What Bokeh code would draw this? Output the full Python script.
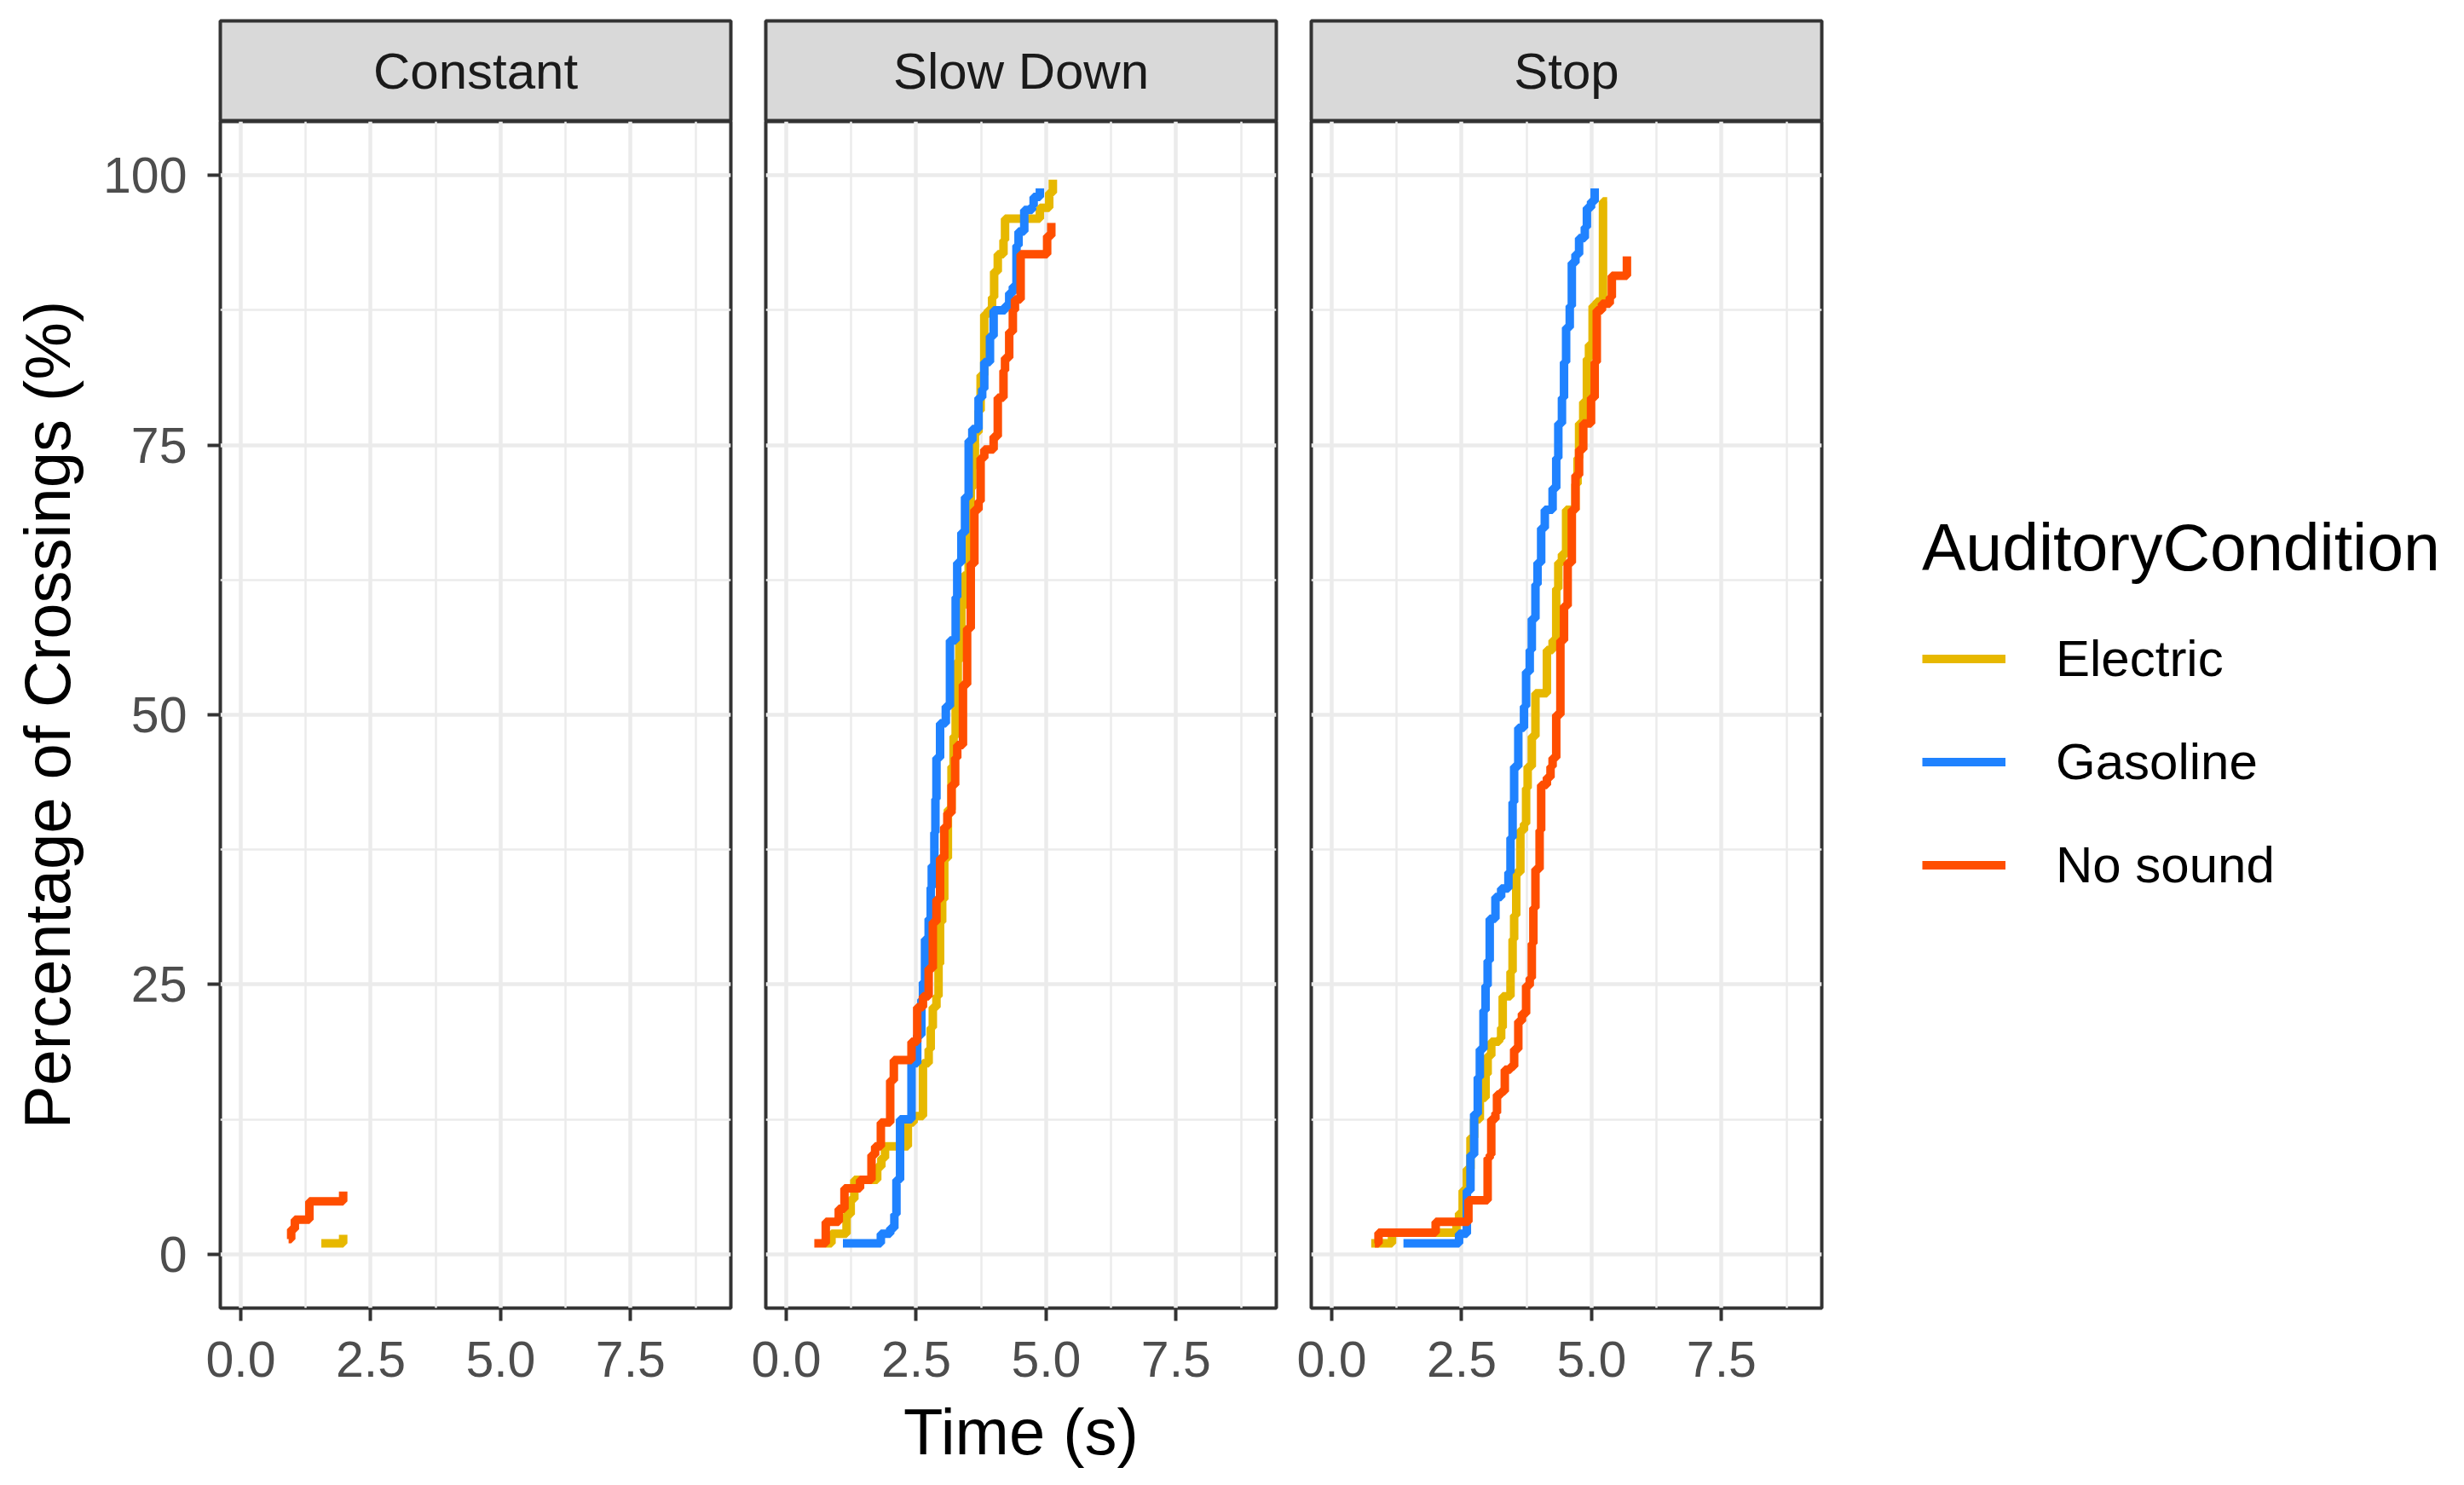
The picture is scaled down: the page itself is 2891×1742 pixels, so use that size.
from bokeh.plotting import figure
from bokeh.models import Range1d, FixedTicker, NumeralTickFormatter, Label, Legend, LegendItem
from bokeh.layouts import row, column
from bokeh.embed import file_html
from bokeh.resources import INLINE

FONT = "Liberation Sans"

# ---------------- data ----------------
facets = ["Constant", "Slow Down", "Stop"]
conditions = ["Electric", "Gasoline", "No sound"]
cond_colors = ["#E7B800", "#1F82FF", "#FF4E00"]

x_ticks = [0, 2.5, 5, 7.5]
x_minor = [1.25, 3.75, 6.25, 8.75]
y_ticks = [0, 25, 50, 75, 100]
y_minor = [12.5, 37.5, 62.5, 87.5]

# Constant
const_electric_t = [1.55, 1.97]
const_electric_pct = [1.0, 1.8]
const_nosound_t = [0.92, 0.97, 1.04, 1.32, 1.97]
const_nosound_pct = [1.4, 2.3, 3.2, 4.9, 5.8]

# Slow Down
slow_electric_t = [0.76, 0.87, 1.16, 1.24, 1.31, 1.75, 1.83, 1.90, 2.34, 2.45, 2.63, 2.74, 2.78, 2.82,
                   2.89, 2.93, 2.96, 3.00, 3.04, 3.11, 3.18, 3.22, 3.26, 3.30, 3.33, 3.37, 3.41, 3.51,
                   3.55, 3.58, 3.63, 3.70, 3.74, 3.81, 3.88, 3.96, 4.00, 4.07, 4.18, 4.21, 4.88, 5.06, 5.13]
slow_electric_pct = [1.0, 1.9, 3.7, 5.1, 6.9, 8.1, 8.9, 10.0, 12.2, 12.8, 17.7, 19.0, 21.0, 22.9,
                     23.9, 26.9, 30.8, 32.9, 36.7, 41.2, 45.2, 48.0, 52.0, 55.0, 57.7, 60.0, 62.9, 68.0,
                     71.0, 73.0, 76.2, 78.2, 81.5, 87.1, 87.5, 88.7, 91.1, 92.7, 94.0, 96.0, 97.0, 98.4, 99.6]
slow_gasoline_t = [1.09, 1.82, 2.00, 2.08, 2.12, 2.19, 2.41, 2.52, 2.60, 2.63, 2.67, 2.74, 2.78, 2.80,
                   2.85, 2.87, 2.89, 2.96, 3.07, 3.15, 3.26, 3.29, 3.37, 3.44, 3.51, 3.58, 3.70, 3.77,
                   3.81, 3.92, 3.99, 4.21, 4.29, 4.36, 4.43, 4.47, 4.58, 4.73, 4.76, 4.88]
slow_gasoline_pct = [1.0, 1.9, 2.4, 3.7, 6.9, 12.5, 17.7, 20.3, 23.6, 25.2, 29.2, 31.1, 34.0, 36.0,
                     39.1, 42.2, 46.0, 49.2, 50.8, 56.9, 60.9, 64.1, 66.9, 70.2, 75.4, 76.5, 79.4, 80.2,
                     82.7, 85.1, 87.5, 87.9, 89.1, 89.7, 93.5, 94.8, 96.8, 97.2, 98.0, 98.8]
slow_nosound_t = [0.54, 0.76, 1.01, 1.12, 1.42, 1.64, 1.71, 1.82, 2.00, 2.07, 2.41, 2.52, 2.63, 2.74,
                  2.82, 2.89, 2.96, 3.04, 3.10, 3.18, 3.25, 3.29, 3.40, 3.48, 3.55, 3.62, 3.70, 3.74,
                  3.81, 3.99, 4.07, 4.18, 4.21, 4.29, 4.36, 4.40, 4.51, 5.02, 5.10]
slow_nosound_pct = [1.0, 3.0, 4.2, 6.1, 6.9, 9.2, 10.0, 12.2, 16.1, 18.0, 19.7, 22.9, 23.9, 26.5,
                    30.8, 32.9, 36.7, 39.6, 40.9, 43.5, 46.0, 47.2, 52.8, 58.0, 64.0, 69.0, 69.8, 73.8,
                    74.6, 75.8, 79.4, 81.9, 83.1, 85.5, 87.5, 88.5, 92.7, 94.4, 95.6]

# Stop
stop_electric_t = [0.76, 1.16, 2.40, 2.45, 2.52, 2.60, 2.67, 2.74, 2.85, 2.96, 3.00, 3.07, 3.22, 3.26,
                   3.29, 3.44, 3.48, 3.51, 3.55, 3.63, 3.70, 3.74, 3.77, 3.85, 3.92, 4.14, 4.25, 4.32,
                   4.36, 4.43, 4.51, 4.69, 4.73, 4.76, 4.84, 4.91, 4.95, 5.02, 5.10, 5.22, 5.30]
stop_electric_pct = [1.0, 2.0, 2.9, 3.8, 5.9, 7.9, 10.8, 12.5, 14.5, 16.7, 18.4, 19.7, 20.0, 21.0,
                     23.9, 26.2, 29.2, 31.4, 35.4, 39.3, 39.9, 43.2, 45.2, 48.0, 52.0, 56.0, 56.9, 61.7,
                     64.1, 64.9, 69.0, 71.4, 73.8, 77.0, 79.0, 83.0, 84.3, 87.9, 88.3, 97.6, 97.6]
stop_gasoline_t = [1.38, 2.45, 2.60, 2.67, 2.74, 2.81, 2.85, 2.92, 2.96, 3.00, 3.04, 3.15, 3.26, 3.40,
                   3.44, 3.48, 3.51, 3.59, 3.70, 3.74, 3.81, 3.85, 3.92, 3.96, 4.03, 4.10, 4.25, 4.32,
                   4.36, 4.43, 4.47, 4.51, 4.58, 4.62, 4.69, 4.76, 4.87, 4.91, 4.99, 5.06]
stop_gasoline_pct = [1.0, 1.9, 5.9, 9.2, 13.0, 16.4, 19.0, 22.6, 24.9, 27.2, 31.1, 33.1, 33.9, 35.4,
                     38.6, 41.9, 45.2, 48.8, 50.8, 54.0, 56.0, 58.9, 62.1, 64.1, 67.3, 69.0, 71.0, 73.8,
                     77.0, 79.4, 82.7, 85.9, 87.9, 91.9, 92.7, 94.2, 95.2, 97.0, 97.6, 98.8]
stop_nosound_t = [0.83, 0.90, 2.00, 2.63, 3.00, 3.04, 3.07, 3.15, 3.18, 3.26, 3.33, 3.44, 3.51, 3.59,
                  3.66, 3.74, 3.81, 3.85, 3.88, 3.92, 4.00, 4.03, 4.14, 4.21, 4.25, 4.32, 4.40, 4.47,
                  4.54, 4.62, 4.69, 4.76, 4.84, 4.99, 5.06, 5.10, 5.20, 5.35, 5.39, 5.68]
stop_nosound_pct = [1.0, 2.0, 3.0, 5.0, 8.9, 9.2, 12.5, 13.1, 14.8, 15.1, 17.1, 17.4, 19.0, 21.6,
                    22.3, 24.9, 25.6, 28.8, 32.1, 35.7, 39.3, 43.5, 44.2, 45.2, 46.0, 50.0, 56.9, 60.1,
                    64.1, 69.0, 72.2, 74.6, 77.0, 79.4, 82.7, 87.5, 88.1, 88.7, 90.7, 92.5]

series = {
    "Constant": {"Electric": (const_electric_t, const_electric_pct),
                 "No sound": (const_nosound_t, const_nosound_pct)},
    "Slow Down": {"Electric": (slow_electric_t, slow_electric_pct),
                  "Gasoline": (slow_gasoline_t, slow_gasoline_pct),
                  "No sound": (slow_nosound_t, slow_nosound_pct)},
    "Stop": {"Electric": (stop_electric_t, stop_electric_pct),
             "Gasoline": (stop_gasoline_t, stop_gasoline_pct),
             "No sound": (stop_nosound_t, stop_nosound_pct)},
}

# ---------------- layout ----------------
X_START, X_END = -0.394, 9.43
Y_START, Y_END = -5.0, 105.0
FRAME_W, FRAME_H = 599, 1392
STRIP_TOP, STRIP_H = 24, 118
LEFT_A = 258
GAP_L, GAP_R = 21, 20
RIGHT_C = 4
BOTTOM = 197
TOTAL_W = 2891
BORDER = "#333333"
GRID = "#EBEBEB"
LINE_W = 10


def borders(i):
    left = LEFT_A if i == 0 else GAP_L
    right = RIGHT_C if i == 2 else GAP_R
    return left, right


def make_strip(i, facet):
    left, right = borders(i)
    s = figure(frame_width=FRAME_W, frame_height=STRIP_H,
               x_range=Range1d(0, 1), y_range=Range1d(0, 1),
               x_axis_location=None, y_axis_location=None,
               min_border_left=left, min_border_right=right,
               min_border_top=STRIP_TOP, min_border_bottom=0,
               background_fill_color="#D9D9D9", border_fill_color="white",
               outline_line_color=BORDER, outline_line_width=4,
               output_backend="svg", toolbar_location=None)
    s.grid.visible = False
    s.add_layout(Label(x=0.5, y=0.5, text=facet, text_align="center", text_baseline="middle",
                       text_font=FONT, text_font_size="60px", text_color="#1A1A1A"))
    return s


def make_panel(i, facet):
    first = i == 0
    left, right = borders(i)
    p = figure(frame_width=FRAME_W, frame_height=FRAME_H,
               x_range=Range1d(X_START, X_END), y_range=Range1d(Y_START, Y_END),
               x_axis_location="below", y_axis_location="left" if first else None,
               min_border_left=left, min_border_right=right,
               min_border_top=0, min_border_bottom=BOTTOM,
               background_fill_color="white", border_fill_color="white",
               outline_line_color=BORDER, outline_line_width=4,
               output_backend="svg", toolbar_location=None)
    for g, ticks, minor in ((p.xgrid, x_ticks, x_minor), (p.ygrid, y_ticks, y_minor)):
        g.ticker = FixedTicker(ticks=ticks, minor_ticks=minor)
        g.grid_line_color = GRID
        g.grid_line_width = 4.5
        g.minor_grid_line_color = GRID
        g.minor_grid_line_width = 2.5
    axes = [p.xaxis[0]] + ([p.yaxis[0]] if first else [])
    for ax in axes:
        ax.axis_line_color = None
        ax.major_tick_line_color = BORDER
        ax.major_tick_line_width = 4
        ax.major_tick_out = 15
        ax.major_tick_in = 0
        ax.minor_tick_line_color = None
        ax.major_label_text_font = FONT
        ax.major_label_text_font_size = "59px"
        ax.major_label_text_color = "#4D4D4D"
        ax.axis_label_text_font = FONT
        ax.axis_label_text_font_size = "76px"
        ax.axis_label_text_font_style = "normal"
        ax.axis_label_text_color = "black"
    p.xaxis[0].ticker = FixedTicker(ticks=x_ticks)
    p.xaxis[0].formatter = NumeralTickFormatter(format="0.0")
    p.xaxis[0].major_label_standoff = 24
    p.xaxis[0].axis_label_standoff = 19
    if i == 1:
        p.xaxis[0].axis_label = "Time (s)"
    if first:
        p.yaxis[0].ticker = FixedTicker(ticks=y_ticks)
        p.yaxis[0].major_label_standoff = 24
        p.yaxis[0].axis_label_standoff = 20
        p.yaxis[0].axis_label = "Percentage of Crossings (%)"
    for cond, col in zip(conditions, cond_colors):
        if cond in series[facet]:
            t, pct = series[facet][cond]
            p.step(t, pct, mode="after", line_color=col, line_width=LINE_W)
    return p


cols = []
used_w = 0
for i, f in enumerate(facets):
    cols.append(column(make_strip(i, f), make_panel(i, f)))
    l, r = borders(i)
    used_w += l + FRAME_W + r

# legend figure (key glyphs only; no visible data)
lf = figure(width=TOTAL_W - used_w, height=STRIP_TOP + STRIP_H + 1377,
            x_range=Range1d(0, 1), y_range=Range1d(0, 1),
            x_axis_location=None, y_axis_location=None,
            min_border_left=0, min_border_right=0, min_border_top=STRIP_TOP + STRIP_H, min_border_bottom=0,
            outline_line_color=None, background_fill_color="white", border_fill_color="white",
            output_backend="svg", toolbar_location=None)
lf.grid.visible = False
items = []
for cond, col in zip(conditions, cond_colors):
    r = lf.line(x=[float("nan")], y=[float("nan")], line_color=col, line_width=LINE_W)
    items.append(LegendItem(label=cond, renderers=[r]))
legend = Legend(items=items, location="center_left", margin=114, padding=0,
                title="AuditoryCondition", title_text_font=FONT, title_text_font_size="77px",
                title_text_font_style="normal", title_text_color="black", title_standoff=36,
                label_text_font=FONT, label_text_font_size="60px", label_text_color="black",
                glyph_width=98, glyph_height=100, label_height=100, label_standoff=59, spacing=21,
                border_line_color=None, background_fill_alpha=0)
lf.add_layout(legend)

layout = row(*cols, lf)
open("out.html", "w").write(file_html(layout, INLINE))
